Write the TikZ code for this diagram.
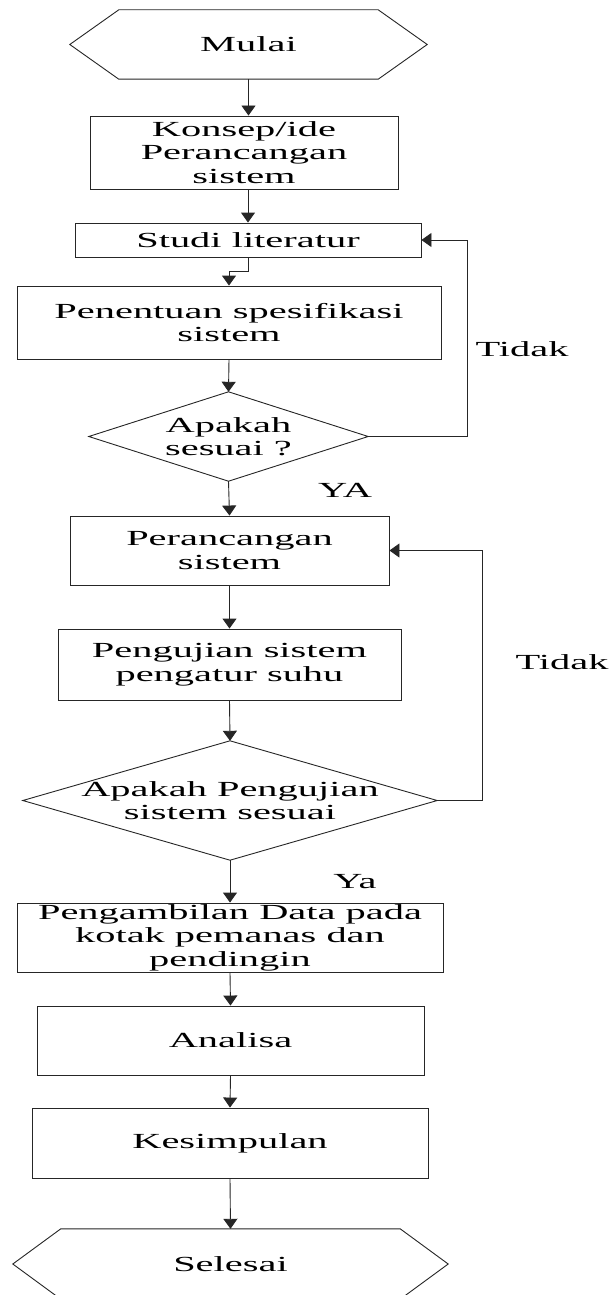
\documentclass[tikz,border=0pt]{standalone}
\usepackage{fontspec}
\setmainfont{Liberation Serif}
\usepackage{graphicx}
\usetikzlibrary{arrows.meta}
\newcommand{\sx}[1]{\scalebox{1.88}[1]{#1}}
\tikzset{
  txt/.style={inner sep=0pt, align=center, font=\fontsize{21.5}{23.5}\selectfont},
  box/.style={txt, draw=black!85, line width=0.9pt},
  ghost/.style={txt, draw=none},
  outline/.style={draw=black!85, line width=0.9pt},
  arr/.style={-{Triangle[width=14pt,length=10pt]}, line width=0.9pt, draw=black!85},
}
\begin{document}
\begin{tikzpicture}[x=1pt,y=-1pt]
\useasboundingbox (0,0) rectangle (613,1295);
\clip (0,0) rectangle (613,1295);
\fill[white] (0,0) rectangle (613,1295);

% Mulai hexagon
\node[ghost, minimum width=357pt, minimum height=69pt] (mulai) at (248.5,44.5) {\sx{Mulai}};
\draw[outline] ([xshift=49pt]mulai.north west) -- ([xshift=-49pt]mulai.north east) -- (mulai.east)
  -- ([xshift=-49pt]mulai.south east) -- ([xshift=49pt]mulai.south west) -- (mulai.west) -- cycle;

\node[box, minimum width=308pt, minimum height=73pt] (konsep) at (244,152.5)
  {\sx{Konsep/ide}\\\sx{Perancangan}\\\sx{sistem}};
\node[box, minimum width=346pt, minimum height=34pt] (studi) at (248,240) {\sx{Studi literatur}};
\node[box, minimum width=424pt, minimum height=73pt] (penentuan) at (229,322.5)
  {\sx{Penentuan spesifikasi}\\\sx{sistem}};

% Diamond 1
\node[ghost, minimum width=279pt, minimum height=89pt] (d1) at (228.5,436.5)
  {\sx{Apakah}\\\sx{sesuai ?}};
\draw[outline] (d1.north) -- (d1.east) -- (d1.south) -- (d1.west) -- cycle;

\node[box, minimum width=319pt, minimum height=69pt] (peranc) at (229.5,550.5)
  {\sx{Perancangan}\\\sx{sistem}};
\node[box, minimum width=343pt, minimum height=71pt] (penguj) at (229.5,664.5)
  {\sx{Pengujian sistem}\\\sx{pengatur suhu}};

% Diamond 2
\node[ghost, minimum width=414pt, minimum height=119pt] (d2) at (230,800.5)
  {\sx{Apakah Pengujian}\\\sx{sistem sesuai}};
\draw[outline] (d2.north) -- (d2.east) -- (d2.south) -- (d2.west) -- cycle;

\node[box, minimum width=426pt, minimum height=69pt] (ambil) at (230,937.5)
  {\sx{Pengambilan Data pada}\\\sx{kotak pemanas dan}\\\sx{pendingin}};
\node[box, minimum width=387pt, minimum height=69pt] (analisa) at (230.5,1040.5) {\sx{Analisa}};
\node[box, minimum width=396pt, minimum height=70pt] (simpul) at (230,1143) {\sx{Kesimpulan}};

% Selesai hexagon
\node[ghost, minimum width=435pt, minimum height=70pt] (selesai) at (230.5,1264) {\sx{Selesai}};
\draw[outline] ([xshift=48pt]selesai.north west) -- ([xshift=-48pt]selesai.north east) -- (selesai.east)
  -- ([xshift=-48pt]selesai.south east) -- ([xshift=48pt]selesai.south west) -- (selesai.west) -- cycle;

% Labels
\node[ghost] (tidak1) at (522,349) {\sx{Tidak}};
\node[ghost] (ya1) at (345,490) {\sx{YA}};
\node[ghost] (tidak2) at (562,662) {\sx{Tidak}};
\node[ghost] (ya2) at (355,882) {\sx{Ya}};

% Connectors
\draw[arr] (mulai.south) -- (mulai.south |- konsep.north);
\draw[arr] (studi.north |- konsep.south) -- (studi.north);
\draw[arr] (studi.south) -- ++(0,14) -| (penentuan.north);
\draw[arr] (penentuan.south) -- (d1.north);
\draw[arr] (d1.east) -- ++(99,0) |- (studi.east);
\draw[arr] (d1.south) -- (peranc.north);
\draw[arr] (peranc.south) -- (penguj.north);
\draw[arr] (penguj.south) -- (d2.north);
\draw[arr] (d2.east) -- ++(45,0) |- (peranc.east);
\draw[arr] (d2.south) -- (ambil.north);
\draw[arr] (ambil.south) -- (analisa.north);
\draw[arr] (analisa.south) -- (simpul.north);
\draw[arr] (simpul.south) -- (selesai.north);
\end{tikzpicture}
\end{document}
